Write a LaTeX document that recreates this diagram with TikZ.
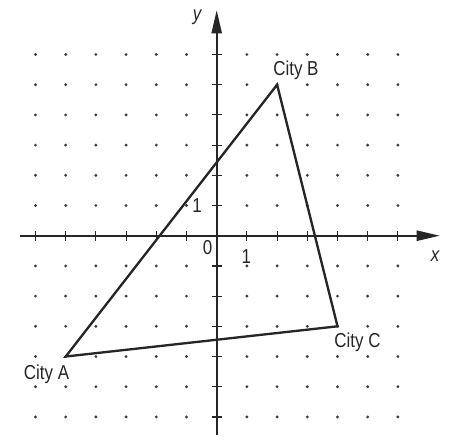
\documentclass[tikz,border=0pt]{standalone}
\usepackage{fontspec}
\setmainfont{Liberation Sans}[FakeStretch=0.84]
\usetikzlibrary{arrows.meta,calc}
\definecolor{ink}{HTML}{262626}
\definecolor{dotc}{HTML}{3C3C3C}
\tikzset{
  axis/.style={draw=ink, line width=2.2pt, -{Triangle[length=22pt,width=9.5pt]}},
  tick/.style={draw=ink, line width=1.1pt},
  side/.style={draw=ink, line width=2.2pt, line join=miter},
  lbl/.style={text=ink, inner sep=0pt, font=\fontsize{19}{22}\selectfont},
  gdot/.style={fill=dotc, draw=none}
}
\begin{document}
\begin{tikzpicture}
\useasboundingbox (-7.175,-6.93) rectangle (7.758,7.805);
% dot grid
\foreach \i in {-6,...,6}{
  \foreach \j in {-6,...,6}{
    \ifnum\i=0\else\ifnum\j=0\else
      \fill[gdot] (\i,\j) circle (1.5pt);
    \fi\fi
  }
}
% axes
\coordinate (xl) at (-6.51,0);
\coordinate (xr) at (7.39,0);
\coordinate (yb) at (0,-6.6);
\coordinate (yt) at (0,7.47);
\draw[axis] (xl) -- (xr);
\draw[axis] (yb) -- (yt);
\foreach \k in {-6,...,-1,1,2,...,6}{
  \draw[tick] (\k,-0.165) -- (\k,0.165);
  \draw[tick] (-0.165,\k) -- (0.165,\k);
}
% labels on axes
\node[lbl, font=\fontsize{19}{22}\selectfont\itshape] (ylab) at (-0.65,7.24) {y};
\node[lbl, font=\fontsize{19}{22}\selectfont\itshape] (xlab) at (7.23,-0.67) {x};
\node[lbl] (zero) at (-0.30,-0.39) {0};
\node[lbl] (oney) at (-0.65,1.0) {1};
\node[lbl] (onex) at (0.98,-0.69) {1};
% triangle
\coordinate (A) at (-5,-4);
\coordinate (B) at (2,5);
\coordinate (C) at (4,-3);
\draw[side] (A) -- (B) -- (C) -- cycle;
\node[lbl, anchor=base west] (cb) at ($(B)+(-0.13,0.32)$) {City B};
\node[lbl, anchor=north east] (ca) at ($(A)+(0.12,-0.28)$) {City A};
\node[lbl, anchor=north west] (cc) at ($(C)+(-0.11,-0.2)$) {City C};
\end{tikzpicture}
\end{document}
